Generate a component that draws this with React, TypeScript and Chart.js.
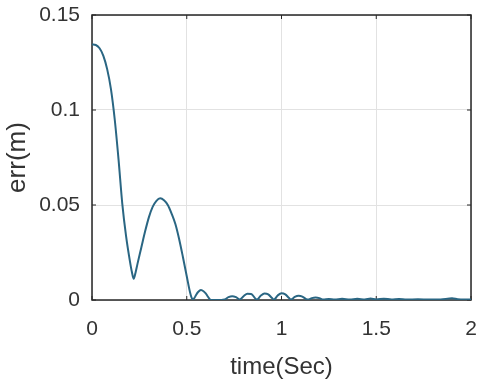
import React, { useEffect, useRef } from "react";
import { Chart, registerables } from "chart.js";

Chart.register(...registerables);

// time (s)
const times: number[] = [
  0, 0.02, 0.04, 0.06, 0.08, 0.10, 0.12, 0.14, 0.16, 0.18, 0.20, 0.21, 0.22, 0.23, 0.24,
  0.26, 0.28, 0.30, 0.32, 0.34, 0.36, 0.38, 0.40, 0.42, 0.44, 0.46, 0.48, 0.50, 0.52, 0.53,
  0.54, 0.55, 0.56, 0.575, 0.59, 0.60, 0.61, 0.62, 0.63, 0.66, 0.70, 0.72, 0.74, 0.76, 0.78,
  0.80, 0.82, 0.84, 0.86, 0.87, 0.89, 0.91, 0.93, 0.95, 0.96, 0.98, 1.00, 1.02, 1.04, 1.05,
  1.07, 1.09, 1.11, 1.13, 1.14, 1.16, 1.18, 1.20, 1.22, 1.25, 1.28, 1.32, 1.36, 1.40, 1.44,
  1.47, 1.50, 1.54, 1.58, 1.62, 1.66, 1.72, 1.78, 1.84, 1.90, 1.93, 1.96, 2.0,
];

// err (m)
const errs: number[] = [
  0.1345, 0.1342, 0.1325, 0.1285, 0.1215, 0.111, 0.095, 0.074, 0.0505, 0.0335, 0.0205, 0.015, 0.0112, 0.0145, 0.019,
  0.0275, 0.036, 0.0435, 0.049, 0.0522, 0.0535, 0.0525, 0.050, 0.0455, 0.040, 0.032, 0.0225, 0.0125, 0.003, 0.0005,
  0.001, 0.0028, 0.0042, 0.0052, 0.0045, 0.0035, 0.002, 0.0006, 0.0, 0.0, 0.0003, 0.0015, 0.002, 0.0015, 0.0003,
  0.002, 0.0033, 0.0032, 0.001, 0.0002, 0.0022, 0.0034, 0.003, 0.001, 0.0002, 0.0024, 0.0036, 0.003, 0.001, 0.0002,
  0.0016, 0.0022, 0.0018, 0.0005, 0.0002, 0.001, 0.0013, 0.001, 0.0002, 0.0005, 0.0002, 0.0006, 0.0002, 0.0006, 0.0003,
  0.0008, 0.0003, 0.0007, 0.0003, 0.0005, 0.0002, 0.0004, 0.0002, 0.0003, 0.0009, 0.0004, 0.0002, 0.0002,
];

const xTicks: number[] = [0, 0.5, 1, 1.5, 2];
const xTickLabels: string[] = ["0", "0.5", "1", "1.5", "2"];
const yTicks: number[] = [0, 0.05, 0.1, 0.15];
const yTickLabels: string[] = ["0", "0.05", "0.1", "0.15"];

const xTitle = "time(Sec)";
const yTitle = "err(m)";

const boxPlugin = {
  id: "matlabBox",
  beforeDatasetsDraw(chart: any) {
    const { ctx, chartArea } = chart;
    const { left, right, top, bottom } = chartArea;
    ctx.save();
    ctx.strokeStyle = "#262626";
    ctx.lineWidth = 1.5;
    ctx.strokeRect(left, top, right - left, bottom - top);
    ctx.lineWidth = 1;
    const tl = 4;
    const xs = chart.scales.x;
    const ys = chart.scales.y;
    ctx.beginPath();
    xTicks.forEach((v) => {
      const px = xs.getPixelForValue(v);
      ctx.moveTo(px, bottom);
      ctx.lineTo(px, bottom - tl);
      ctx.moveTo(px, top);
      ctx.lineTo(px, top + tl);
    });
    yTicks.forEach((v) => {
      const py = ys.getPixelForValue(v);
      ctx.moveTo(left, py);
      ctx.lineTo(left + tl, py);
      ctx.moveTo(right, py);
      ctx.lineTo(right - tl, py);
    });
    ctx.stroke();
    ctx.restore();
  },
};

export default function App() {
  const ref = useRef<HTMLCanvasElement | null>(null);

  useEffect(() => {
    if (!ref.current) return;
    const font = "'Liberation Sans', Arial, sans-serif";
    const chart = new Chart(ref.current, {
      type: "line",
      data: {
        datasets: [
          {
            data: times.map((t, i) => ({ x: t, y: errs[i] })),
            borderColor: "#2a6683",
            borderWidth: 2,
            pointRadius: 0,
            fill: false,
            cubicInterpolationMode: "monotone",
          },
        ],
      },
      options: {
        animation: false,
        responsive: false,
        events: [],
        layout: { padding: { top: 15, right: 10, left: 0, bottom: 0 } },
        plugins: { legend: { display: false }, tooltip: { enabled: false } },
        scales: {
          x: {
            type: "linear",
            min: 0,
            max: 2,
            afterBuildTicks: (s: any) => {
              s.ticks = xTicks.map((v) => ({ value: v }));
            },
            afterFit: (s: any) => {
              s.height = 85;
              s.paddingLeft = 0;
              s.paddingRight = 0;
            },
            ticks: {
              padding: 17,
              color: "#333333",
              font: { family: font, size: 21 },
              maxRotation: 0,
              autoSkip: false,
              callback: (_v: any, i: number) => xTickLabels[i],
            },
            grid: { color: "#e2e2e2", drawTicks: false, lineWidth: 1 },
            border: { display: false },
            title: {
              display: true,
              text: xTitle,
              color: "#333333",
              font: { family: font, size: 24 },
              padding: { top: 0, bottom: 3 },
            },
          },
          y: {
            type: "linear",
            min: 0,
            max: 0.15,
            afterBuildTicks: (s: any) => {
              s.ticks = yTicks.map((v) => ({ value: v }));
            },
            afterFit: (s: any) => {
              s.width = 92;
              s.paddingTop = 0;
              s.paddingBottom = 0;
            },
            ticks: {
              padding: 12,
              color: "#333333",
              font: { family: font, size: 21 },
              autoSkip: false,
              callback: (_v: any, i: number) => yTickLabels[i],
            },
            grid: { color: "#e2e2e2", drawTicks: false, lineWidth: 1 },
            border: { display: false },
            title: {
              display: true,
              text: yTitle,
              color: "#333333",
              font: { family: font, size: 26 },
              padding: { top: 2, bottom: 0 },
            },
          },
        },
      },
      plugins: [boxPlugin],
    });
    return () => chart.destroy();
  }, []);

  return (
    <div style={{ position: "fixed", left: 0, top: 0, width: 481, height: 385, background: "#ffffff" }}>
      <canvas ref={ref} width={481} height={385} />
    </div>
  );
}
